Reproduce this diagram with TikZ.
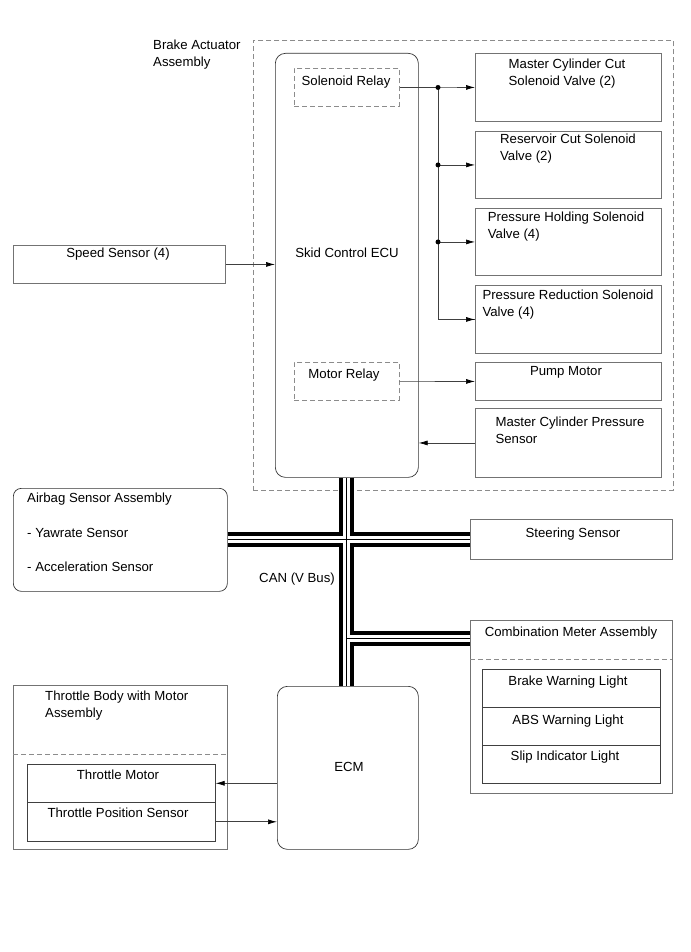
\documentclass[tikz,border=0pt]{standalone}
\usepackage{fontspec}
\setmainfont{Liberation Sans}
\usetikzlibrary{arrows.meta}

\begin{document}
\begin{tikzpicture}[x=1pt, y=-1pt,
    font=\fontsize{13.2}{16.5}\selectfont,
    box/.style={draw=black!55, line width=0.9pt, anchor=north west, inner sep=0pt},
    roundbox/.style={draw=black!80, line width=0.7pt, rounded corners=10pt, anchor=north west, inner sep=0pt},
    relaybox/.style={draw=black!45, line width=0.7pt, dash pattern=on 5pt off 3pt, anchor=north west, inner sep=0pt},
    sepline/.style={draw=black!45, line width=0.7pt, dash pattern=on 5pt off 3pt},
    txt/.style={anchor=north, inner sep=0pt, align=left},
    wire/.style={draw=black!75, line width=0.7pt},
    arr/.style={wire, -{Latex[length=9pt,width=5pt,color=black]}},
    jdot/.style={circle, fill=black, inner sep=0pt, minimum size=5pt}]

    \useasboundingbox (0,0) rectangle (690,952);

    % brake actuator assembly
    \node[relaybox, minimum width=420pt, minimum height=450pt] (bact) at (253,40) {};
    \node[txt, anchor=north west] (bact-t) at (153,40) {Brake Actuator\\Assembly};
    \node[roundbox, minimum width=143pt, minimum height=424pt] (ecu) at (275,53) {};
    \node (ecu-t) at (347,253) {Skid Control ECU};
    \node[relaybox, minimum width=105pt, minimum height=38pt] (solrel) at (294,68) {};
    \node[txt] (solrel-t) at (346,76) {Solenoid Relay};
    \node[relaybox, minimum width=105pt, minimum height=38pt] (motrel) at (294,362) {};
    \node[txt] (motrel-t) at (344,369) {Motor Relay};

    \node[box, minimum width=186pt, minimum height=68pt] (mcc) at (475,53) {};
    \node[txt] (mcc-t) at (567,59) {Master Cylinder Cut\\Solenoid Valve (2)};
    \node[box, minimum width=186pt, minimum height=67pt] (rcv) at (475,131) {};
    \node[txt] (rcv-t) at (568,134) {Reservoir Cut Solenoid\\Valve (2)};
    \node[box, minimum width=186pt, minimum height=67pt] (phv) at (475,208) {};
    \node[txt] (phv-t) at (566,212) {Pressure Holding Solenoid\\Valve (4)};
    \node[box, minimum width=186pt, minimum height=68pt] (prv) at (475,285) {};
    \node[txt] (prv-t) at (568,290) {Pressure Reduction Solenoid\\Valve (4)};
    \node[box, minimum width=186pt, minimum height=38pt] (pump) at (475,362) {};
    \node[txt] (pump-t) at (566,366) {Pump Motor};
    \node[box, minimum width=186pt, minimum height=69pt] (mcps) at (475,408) {};
    \node[txt] (mcps-t) at (570,417) {Master Cylinder Pressure\\Sensor};

    % outside the actuator
    \node[box, minimum width=212pt, minimum height=38pt] (speed) at (13,245) {};
    \node[txt] (speed-t) at (118,248) {Speed Sensor (4)};
    \node[roundbox, rounded corners=8pt, minimum width=214pt, minimum height=103pt] (airbag) at (13,488) {};
    \node[txt, anchor=north west] (airbag-t) at (27,493) {Airbag Sensor Assembly\\[18pt]- Yawrate Sensor\\[18pt]- Acceleration Sensor};
    \node[box, minimum width=202pt, minimum height=40pt] (steer) at (470,519) {};
    \node[txt] (steer-t) at (573,528) {Steering Sensor};
    \node (can-t) at (297,579) {CAN (V Bus)};

    \node[box, minimum width=202pt, minimum height=173pt] (combo) at (470,620) {};
    \node[txt] (combo-t) at (571,627) {Combination Meter Assembly};
    \draw[sepline] (470,659) -- (672,659);
    \node[box, draw=black!75, line width=0.6pt, minimum width=178pt, minimum height=38pt] (brkl) at (482,669) {};
    \node[txt] (brkl-t) at (568,676) {Brake Warning Light};
    \node[box, draw=black!75, line width=0.6pt, minimum width=178pt, minimum height=38pt] (absl) at (482,707) {};
    \node[txt] (absl-t) at (568,715) {ABS Warning Light};
    \node[box, draw=black!75, line width=0.6pt, minimum width=178pt, minimum height=38pt] (slipl) at (482,745) {};
    \node[txt] (slipl-t) at (565,751) {Slip Indicator Light};

    \node[roundbox, minimum width=141pt, minimum height=163pt] (ecm) at (277,686) {};
    \node (ecm-t) at (349,767) {ECM};
    \node[box, minimum width=214pt, minimum height=164pt] (tbody) at (13,685) {};
    \node[txt, anchor=north west] (tbody-t) at (45,691) {Throttle Body with Motor\\Assembly};
    \draw[sepline] (13,754) -- (227,754);
    \node[box, draw=black!75, line width=0.6pt, minimum width=188pt, minimum height=38pt] (tmotor) at (27,764) {};
    \node[txt] (tmotor-t) at (118,770) {Throttle Motor};
    \node[box, draw=black!75, line width=0.6pt, minimum width=188pt, minimum height=39pt] (tps) at (27,802) {};
    \node[txt] (tps-t) at (118,808) {Throttle Position Sensor};

    % solenoid relay feed
    \coordinate (trunk) at (438,0);
    \draw[wire] (solrel.east) -- (solrel.east -| trunk) |- (prv.west);
    \draw[arr] (solrel.east -| trunk) -- (mcc.west);
    \foreach \v in {rcv, phv, prv}
        \draw[arr] (\v.west -| trunk) -- (\v.west);
    \foreach \v in {mcc, rcv, phv}
        \node[jdot] (\v-j) at (\v.west -| trunk) {};
    \draw[arr] (motrel.east) -- (pump.west);
    \draw[arr] (mcps.west) -- (mcps.west -| ecu.east);
    \draw[arr] (speed.east) -- (speed.east -| ecu.west);
    \draw[arr] (ecm.west |- tmotor.east) -- (tmotor.east);
    \draw[arr] (tps.east) -- (tps.east -| ecm.west);

    % CAN bus
    \coordinate (cmbus) at (470,638);
    \foreach \w/\c in {15pt/black, 7pt/white, 0.8pt/black} {
        \draw[line width=\w, \c] (ecu.south) -- (ecu.south |- ecm.north);
        \draw[line width=\w, \c] (airbag.east) -- (steer.west |- airbag.east);
        \draw[line width=\w, \c] (ecu.south |- cmbus) -- (cmbus);
    }
\end{tikzpicture}
\end{document}
